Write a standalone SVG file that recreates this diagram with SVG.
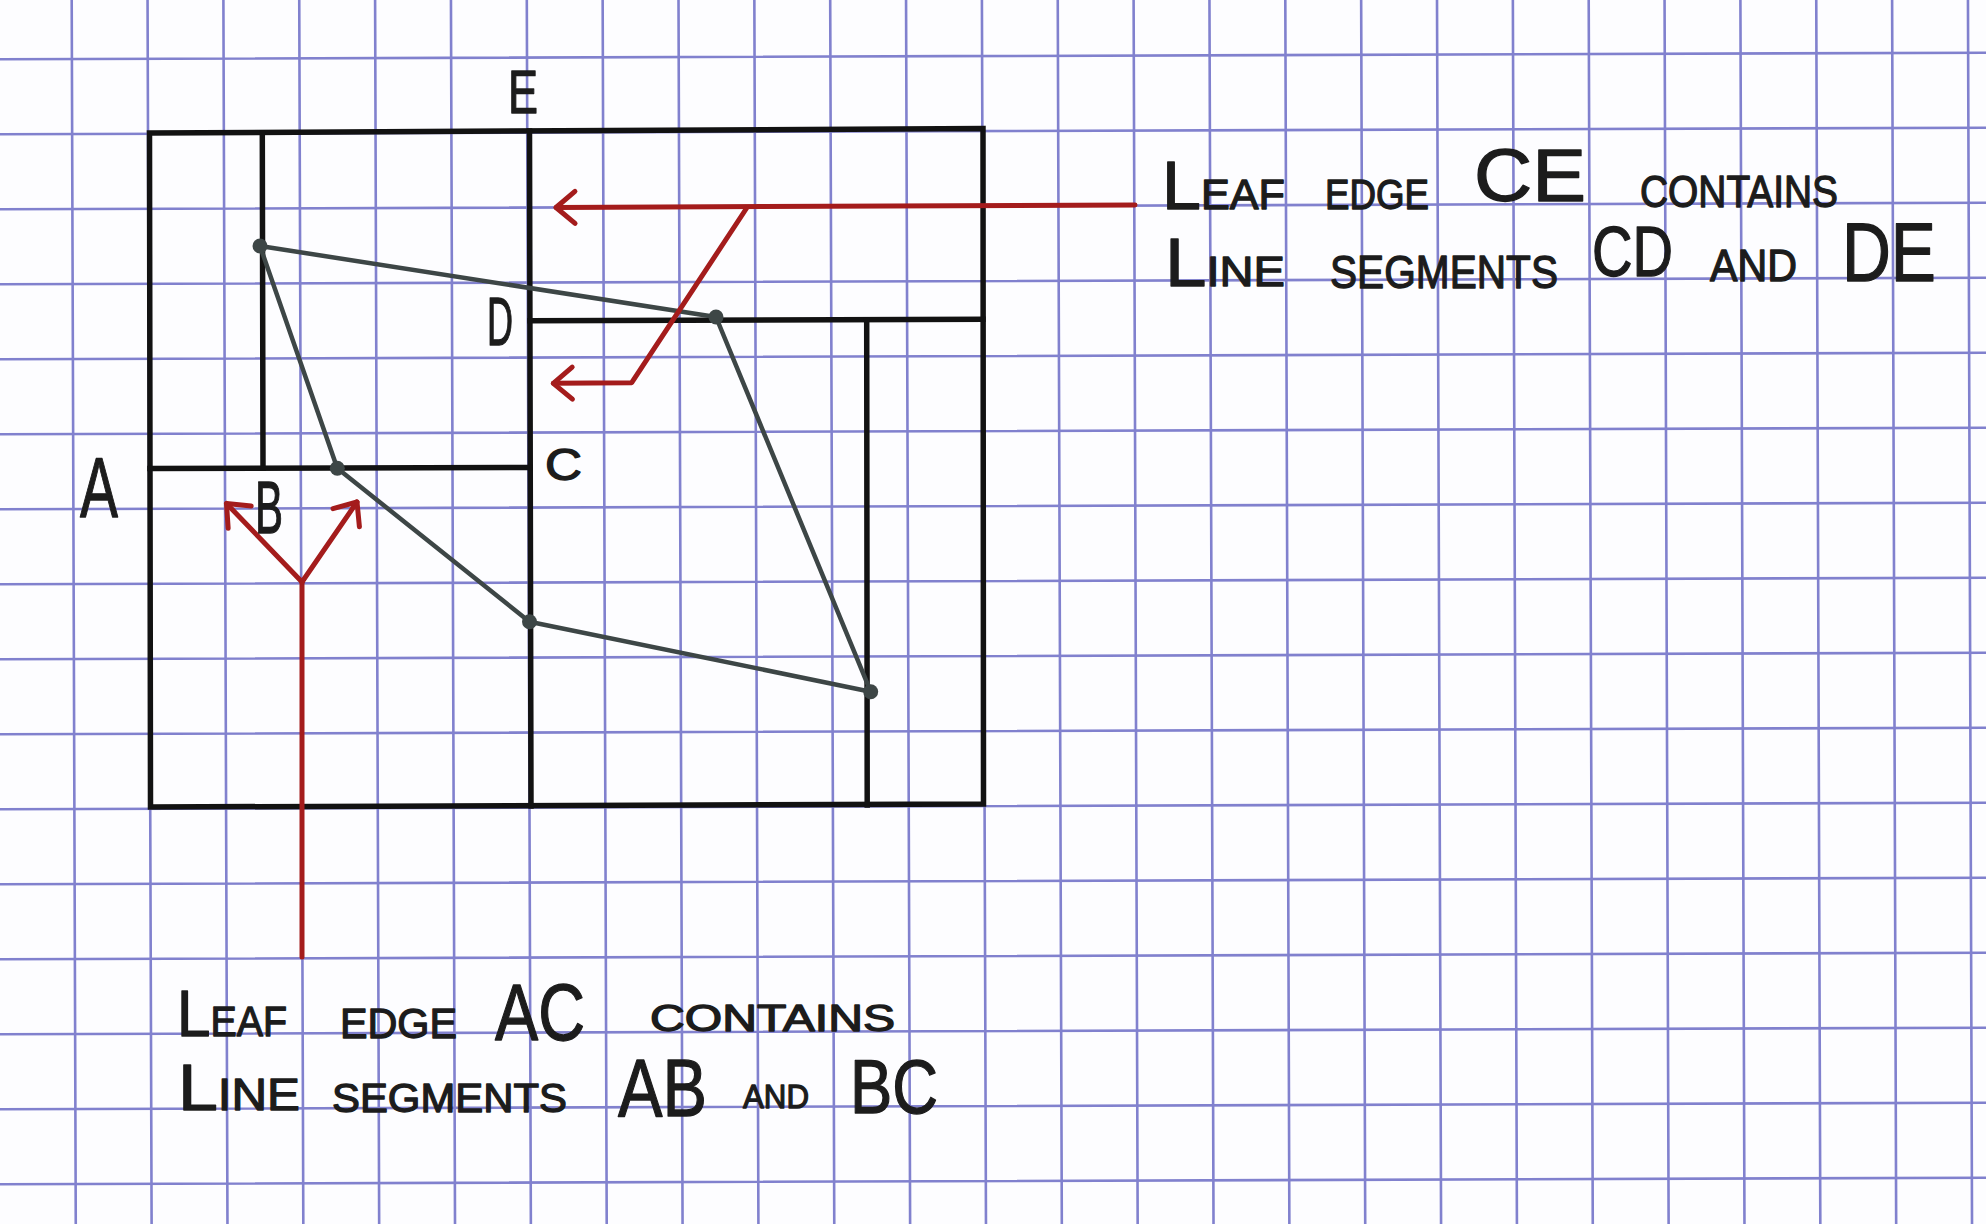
<svg xmlns="http://www.w3.org/2000/svg" width="1986" height="1224" viewBox="0 0 1986 1224">
<style>
.grid{stroke:#7474c9;stroke-width:2.6;fill:none;opacity:0.9}
.ink{stroke:#121212;stroke-width:5.5;fill:none;stroke-linecap:square}
.seg{stroke:#3d4646;stroke-width:4.5;fill:none;stroke-linecap:round;stroke-linejoin:round}
.dot{fill:#3d4646}
.red{stroke:#a41c1c;stroke-width:5;fill:none;stroke-linecap:round;stroke-linejoin:round}
.t{font-family:"Liberation Sans",Arial,sans-serif;fill:#1c1c1c;stroke:#1c1c1c;stroke-width:1.3;stroke-linejoin:round}
</style>
<defs>
<marker id="ah" markerUnits="userSpaceOnUse" orient="auto" refX="0" refY="0" markerWidth="40" markerHeight="40" overflow="visible">
<path d="M -19 -16 L 0 0 L -19 16" stroke="#a41c1c" stroke-width="5" fill="none" stroke-linecap="round" stroke-linejoin="round"/>
</marker>
</defs>
<rect x="0" y="0" width="1986" height="1224" fill="#fdfdff"/>
<g id="grid" class="grid" transform="rotate(-0.19)">
<path d="M71.7 -40V1270M147.55 -40V1270M223.4 -40V1270M299.25 -40V1270M375.1 -40V1270M450.95 -40V1270M526.8 -40V1270M602.65 -40V1270M678.5 -40V1270M754.35 -40V1270M830.2 -40V1270M906.05 -40V1270M981.9 -40V1270M1057.75 -40V1270M1133.6 -40V1270M1209.45 -40V1270M1285.3 -40V1270M1361.15 -40V1270M1437 -40V1270M1512.85 -40V1270M1588.7 -40V1270M1664.55 -40V1270M1740.4 -40V1270M1816.25 -40V1270M1892.1 -40V1270M1967.95 -40V1270"/>
<path d="M-40 59.3H2030M-40 134.3H2030M-40 209.3H2030M-40 284.3H2030M-40 359.3H2030M-40 434.3H2030M-40 509.3H2030M-40 584.3H2030M-40 659.3H2030M-40 734.3H2030M-40 809.3H2030M-40 884.3H2030M-40 959.3H2030M-40 1034.3H2030M-40 1109.3H2030M-40 1184.3H2030"/>
</g>
<g id="cells">
<polygon id="outer-box" class="ink" points="149.5,133 983,128.5 983.5,804 150.5,807"/>
<line id="edge-E" class="ink" x1="529.5" y1="131" x2="531" y2="806"/>
<line id="edge-B" class="ink" x1="262.3" y1="133" x2="263" y2="468"/>
<line id="edge-AC" class="ink" x1="150" y1="468.5" x2="530" y2="467.5"/>
<line id="edge-D" class="ink" x1="530" y1="320.7" x2="983" y2="319.3"/>
<line id="edge-right" class="ink" x1="866.7" y1="320" x2="867.2" y2="805"/>
</g>
<g id="polygon">
<polygon class="seg" points="260,246 337.3,468.3 529.5,621.7 870.7,691.7 716,317"/>
<circle class="dot" cx="260" cy="246" r="7.5"/>
<circle class="dot" cx="337.3" cy="468.3" r="7.5"/>
<circle class="dot" cx="529.5" cy="621.7" r="7.5"/>
<circle class="dot" cx="870.7" cy="691.7" r="7.5"/>
<circle class="dot" cx="716" cy="317" r="7.5"/>
</g>
<g id="connectors">
<path class="red" d="M1135 205 L556 207.5" marker-end="url(#ah)"/>
<path class="red" d="M746.7 208 L631.7 382.7 L553.3 383.3" marker-end="url(#ah)"/>
<path class="red" d="M302 957 L302 582"/>
<path class="red" d="M302 582 L226.5 503.5" marker-end="url(#ah)"/>
<path class="red" d="M302 582 L357 502" marker-end="url(#ah)"/>
</g>
<g id="point-labels">
<text class="t" x="508" y="113" font-size="62" textLength="30" lengthAdjust="spacingAndGlyphs">E</text>
<text class="t" x="487" y="345" font-size="68" textLength="26" lengthAdjust="spacingAndGlyphs">D</text>
<text class="t" x="545" y="480" font-size="44" textLength="37" lengthAdjust="spacingAndGlyphs">C</text>
<text class="t" x="80" y="517" font-size="86" textLength="38" lengthAdjust="spacingAndGlyphs">A</text>
<text class="t" x="255" y="533" font-size="74" textLength="28" lengthAdjust="spacingAndGlyphs">B</text>
</g>
<g id="label-CE">
<text class="t" x="1162" y="209" font-size="42" textLength="123" lengthAdjust="spacingAndGlyphs"><tspan font-size="68">L</tspan>EAF</text>
<text class="t" x="1325" y="209" font-size="42" textLength="104" lengthAdjust="spacingAndGlyphs">EDGE</text>
<text class="t" x="1474" y="201" font-size="74" textLength="112" lengthAdjust="spacingAndGlyphs">CE</text>
<text class="t" x="1640" y="207" font-size="44" textLength="198" lengthAdjust="spacingAndGlyphs">CONTAINS</text>
<text class="t" x="1165" y="286" font-size="43" textLength="120" lengthAdjust="spacingAndGlyphs"><tspan font-size="68">L</tspan>INE</text>
<text class="t" x="1330" y="288" font-size="46" textLength="228" lengthAdjust="spacingAndGlyphs">SEGMENTS</text>
<text class="t" x="1592" y="276" font-size="70" textLength="81" lengthAdjust="spacingAndGlyphs">CD</text>
<text class="t" x="1710" y="281" font-size="44" textLength="87" lengthAdjust="spacingAndGlyphs">AND</text>
<text class="t" x="1842" y="281" font-size="84" textLength="94" lengthAdjust="spacingAndGlyphs">DE</text>
</g>
<g id="label-AC">
<text class="t" x="177" y="1036" font-size="42" textLength="110" lengthAdjust="spacingAndGlyphs"><tspan font-size="64">L</tspan>EAF</text>
<text class="t" x="340" y="1038" font-size="42" textLength="117" lengthAdjust="spacingAndGlyphs">EDGE</text>
<text class="t" x="495" y="1040" font-size="80" textLength="90" lengthAdjust="spacingAndGlyphs">AC</text>
<text class="t" x="650" y="1031" font-size="36" textLength="245" lengthAdjust="spacingAndGlyphs">CONTAINS</text>
<text class="t" x="178" y="1110" font-size="44" textLength="122" lengthAdjust="spacingAndGlyphs"><tspan font-size="64">L</tspan>INE</text>
<text class="t" x="332" y="1112" font-size="40" textLength="235" lengthAdjust="spacingAndGlyphs">SEGMENTS</text>
<text class="t" x="618" y="1116" font-size="82" textLength="89" lengthAdjust="spacingAndGlyphs">AB</text>
<text class="t" x="743" y="1108" font-size="33" textLength="66" lengthAdjust="spacingAndGlyphs">AND</text>
<text class="t" x="850" y="1113" font-size="76" textLength="88" lengthAdjust="spacingAndGlyphs">BC</text>
</g>
</svg>
